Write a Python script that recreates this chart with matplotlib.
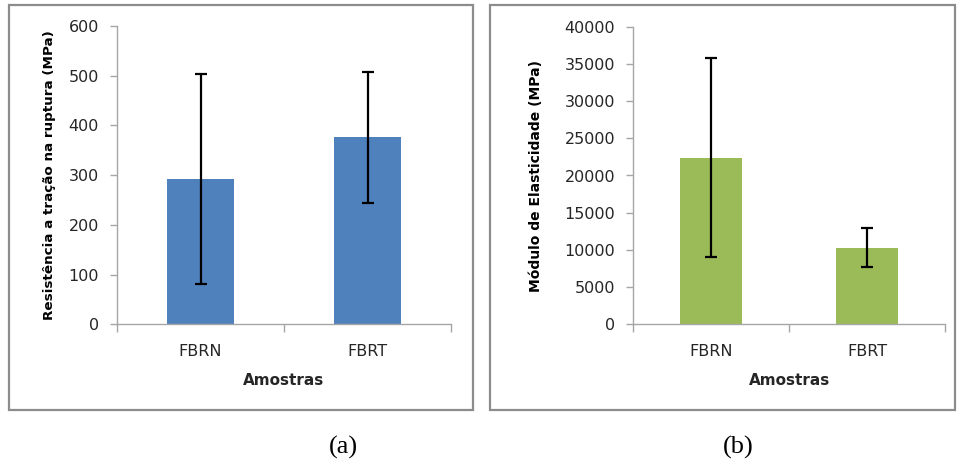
import matplotlib
matplotlib.use("Agg")
import matplotlib.pyplot as plt
from matplotlib.patches import Rectangle
import numpy as np

# Data
amostras = ["FBRN", "FBRT"]
resistencia = [293, 376]          # MPa
resistencia_err = [211, 132]
modulo = [22400, 10300]           # MPa
modulo_err = [13400, 2600]

W, H = 959, 461
fig = plt.figure(figsize=(W / 100, H / 100), dpi=100)
fig.patch.set_facecolor("white")

AXIS_GRAY = "#a6a6a6"
FRAME_GRAY = "#8c8c8c"
TICK_FONT = dict(family="DejaVu Sans", size=11.5, color="#262626")


def px_axes(x0, y0, x1, y1):
    return fig.add_axes([x0 / W, 1 - y1 / H, (x1 - x0) / W, (y1 - y0) / H])


def frame(x0, y0, x1, y1):
    fig.patches.append(Rectangle((x0 / W, 1 - y1 / H), (x1 - x0) / W, (y1 - y0) / H,
                                 transform=fig.transFigure, fill=False,
                                 edgecolor=FRAME_GRAY, linewidth=1.6))


def draw_panel(ax, values, errors, color, ylim, yticks, ylabel, ylabel_size,
               ylabel_x):
    x = np.arange(len(amostras))
    ax.bar(x, values, width=0.4, color=color, edgecolor="none", zorder=2)
    ax.errorbar(x, values, yerr=errors, fmt="none", ecolor="black",
                elinewidth=1.6, capsize=4.5, capthick=1.6, zorder=3)
    ax.set_xlim(-0.5, len(amostras) - 0.5)
    ax.set_ylim(*ylim)
    ax.set_yticks(yticks)
    ax.set_yticklabels([str(v) for v in yticks], fontdict=TICK_FONT)
    ax.set_xticks(x)
    ax.set_xticklabels(amostras, fontdict=TICK_FONT)
    ax.set_xticks(np.arange(len(amostras) + 1) - 0.5, minor=True)
    ax.tick_params(axis="x", which="major", length=0, pad=14)
    ax.tick_params(axis="x", which="minor", length=6, color=AXIS_GRAY, width=1)
    ax.tick_params(axis="y", length=5, color=AXIS_GRAY, width=1, pad=8)
    for side in ("top", "right"):
        ax.spines[side].set_visible(False)
    for side in ("left", "bottom"):
        ax.spines[side].set_color(AXIS_GRAY)
        ax.spines[side].set_linewidth(1)
    ax.set_xlabel("Amostras", family="DejaVu Sans", fontweight="bold",
                  size=11, color="#262626", labelpad=10)
    ax.set_ylabel(ylabel, family="DejaVu Sans", fontweight="bold",
                  size=ylabel_size, color="black", va="center")
    ax.yaxis.set_label_coords(ylabel_x, 0.5)
    ax.set_facecolor("white")


# Left chart: tensile strength
frame(8.5, 5.5, 473, 410)
ax1 = px_axes(117, 26, 451, 324.3)
draw_panel(ax1, resistencia, resistencia_err, "#4f81bd", (0, 600),
           list(range(0, 601, 100)), "Resistência a tração na ruptura (MPa)", 9.7,
           (49.5 - 117) / 334)

# Right chart: elastic modulus
frame(490, 5.5, 955, 410)
ax2 = px_axes(633.3, 26.7, 945, 324.3)
draw_panel(ax2, modulo, modulo_err, "#9bbb59", (0, 40000),
           list(range(0, 40001, 5000)), "Módulo de Elasticidade (MPa)", 10,
           (536 - 633.3) / 311.7)

# Panel captions
fig.text(343 / W, 1 - 447 / H, "(a)", family="Liberation Serif", size=19,
         ha="center", va="center", color="black")
fig.text(738 / W, 1 - 447 / H, "(b)", family="Liberation Serif", size=19,
         ha="center", va="center", color="black")

fig.savefig("out.png", dpi=100, facecolor="white")
